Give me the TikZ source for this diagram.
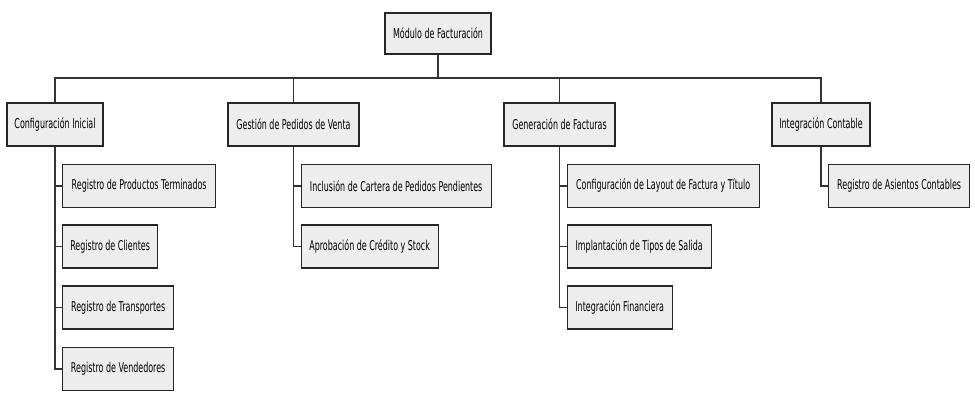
\documentclass[tikz,border=0pt]{standalone}
\usepackage{fontspec}
\setmainfont[FakeStretch=0.59]{DejaVu Sans}
\usepackage{tikz}
\tikzset{
	box/.style={draw=black!85, line width=1.3pt, fill=black!7, minimum height=43pt, inner xsep=6pt, font=\fontsize{13.5}{15}\selectfont},
	kid/.style={box, anchor=west},
	link/.style={draw=black!80, line width=1.2pt}
}

\begin{document}
\begin{tikzpicture}[x=1pt, y=-1pt]
	\useasboundingbox (0,0) rectangle (975,402);
	\node[box, minimum width=106pt, minimum height=41pt] (root) at (438,33.5) {Módulo de Facturación};
	\coordinate (bar) at (438,78);   % horizontal bus
	\node[box, minimum width=96pt]  (cfg) at (55,124.5)    {Configuración Inicial};
	\node[box, minimum width=131pt] (ped) at (293.5,124.5) {Gestión de Pedidos de Venta};
	\node[box, minimum width=111pt] (fac) at (559.5,124.5) {Generación de Facturas};
	\node[box, minimum width=98pt]  (cnt) at (821,124.5)   {Integración Contable};
	% second level
	\node[kid, minimum width=153pt] (cfg1) at (62,186) {Registro de Productos Terminados};
	\node[kid, minimum width=95pt]  (cfg2) at (62,246.5) {Registro de Clientes};
	\node[kid, minimum width=111pt] (cfg3) at (62,307.5) {Registro de Transportes};
	\node[kid, minimum width=111pt] (cfg4) at (62,369) {Registro de Vendedores};
	\node[kid, minimum width=190pt] (ped1) at (300.5,186) {Inclusión de Cartera de Pedidos Pendientes};
	\node[kid, minimum width=137pt] (ped2) at (300.5,246.5) {Aprobación de Crédito y Stock};
	\node[kid, minimum width=192pt] (fac1) at (566.5,186) {Configuración de Layout de Factura y Título};
	\node[kid, minimum width=144pt] (fac2) at (566.5,246.5) {Implantación de Tipos de Salida};
	\node[kid, minimum width=105pt] (fac3) at (566.5,307.5) {Integración Financiera};
	\node[kid, minimum width=141pt] (cnt1) at (828,186) {Registro de Asientos Contables};
	% connectors
	\draw[link] (root) -- (bar);
	\foreach \n in {cfg,ped,fac,cnt}
		\draw[link] (bar) -| (\n.north);
	\foreach \p/\k in {cfg/cfg1,cfg/cfg2,cfg/cfg3,cfg/cfg4,ped/ped1,ped/ped2,fac/fac1,fac/fac2,fac/fac3,cnt/cnt1}
		\draw[link] (\p.south) |- (\k.west);
\end{tikzpicture}
\end{document}
